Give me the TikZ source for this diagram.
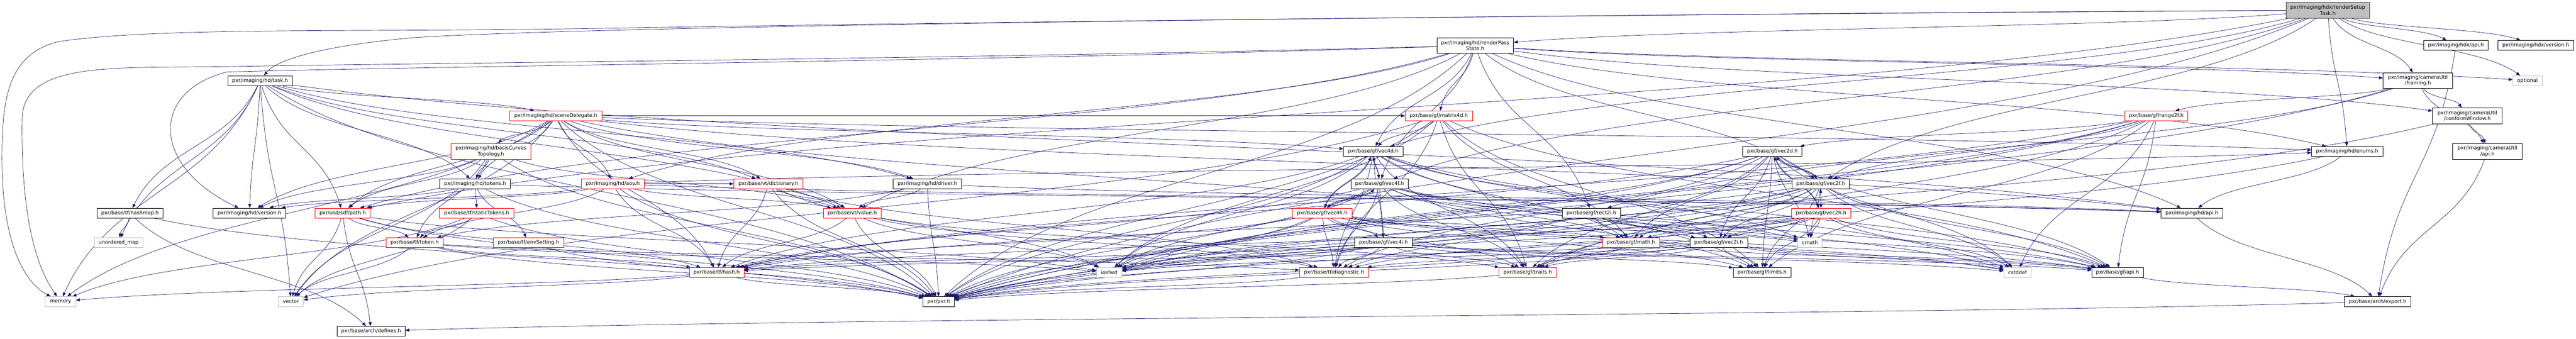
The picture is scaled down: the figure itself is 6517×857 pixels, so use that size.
\documentclass[tikz,border=0pt]{standalone}
\usepackage{fontspec}
\setmainfont{DejaVu Sans}
\usetikzlibrary{arrows.meta,calc}
\definecolor{edgec}{HTML}{191970}
\definecolor{grayb}{HTML}{BFBFBF}
\newif\ifvis
\newcommand\nd[5]{\ifvis\node[#1,minimum width=#4pt] at (#3) {#5};\else\node[#1,draw=none,fill=none,minimum width=#4pt] (#2) at (#3) {};\fi}
\newcommand\edg[2]{\draw[edge] let \p1=(#1), \p2=(#2) in (#1) .. controls ({\x1+0.25*(\x2-\x1)},{\y1+0.5*(\y2-\y1)}) and ({\x2-0.25*(\x2-\x1)},{\y2-0.5*(\y2-\y1)}) .. (#2);}
\newcommand\edgesfrom[2]{\foreach \t in {#2}{\edg{#1}{\t}}}
\newcommand\allnodes{%
\nd{rootb,two}{rst}{5889,26}{212}{pxr/imaging/hdx/renderSetup\\Task.h}
\nd{nb,two}{rps}{3732,115}{194}{pxr/imaging/hd/renderPass\\State.h}
\nd{nb}{hdxapi}{6213,115}{164}{pxr/imaging/hdx/api.h}
\nd{nb}{hdxver}{6415,115}{192}{pxr/imaging/hdx/version.h}
\nd{nb}{task}{658,204}{163}{pxr/imaging/hd/task.h}
\nd{nb,two}{framing}{6117,204}{176}{pxr/imaging/cameraUtil\\/framing.h}
\nd{gb}{optional}{6394,204}{74}{optional}
\nd{rb}{scenedel}{1406,293}{233}{pxr/imaging/hd/sceneDelegate.h}
\nd{rb}{matrix}{3640,293}{170}{pxr/base/gf/matrix4d.h}
\nd{rb}{range}{5455,293}{159}{pxr/base/gf/range2f.h}
\nd{nb,two}{conform}{6242,293}{176}{pxr/imaging/cameraUtil\\/conformWindow.h}
\nd{rb,two}{basis}{1242,383}{203}{pxr/imaging/hd/basisCurves\\Topology.h}
\nd{nb}{vec4d}{3474,383}{150}{pxr/base/gf/vec4d.h}
\nd{nb}{vec2d}{4484,383}{150}{pxr/base/gf/vec2d.h}
\nd{nb}{enums}{5938,383}{180}{pxr/imaging/hd/enums.h}
\nd{nb,two}{cuapi}{6293,383}{176}{pxr/imaging/cameraUtil\\/api.h}
\nd{nb}{tokens}{1202,465}{179}{pxr/imaging/hd/tokens.h}
\nd{rb}{aov}{1550,465}{159}{pxr/imaging/hd/aov.h}
\nd{rb}{dict}{1944,465}{175}{pxr/base/vt/dictionary.h}
\nd{nb}{driver}{2346,465}{173}{pxr/imaging/hd/driver.h}
\nd{nb}{vec4f}{3490,465}{145}{pxr/base/gf/vec4f.h}
\nd{nb}{vec2f}{4606,465}{145}{pxr/base/gf/vec2f.h}
\nd{nb}{hashmap}{329,539}{166}{pxr/base/tf/hashmap.h}
\nd{nb}{hdver}{631,539}{184}{pxr/imaging/hd/version.h}
\nd{rb}{path}{867,539}{139}{pxr/usd/sdf/path.h}
\nd{rb}{stokens}{1206,539}{189}{pxr/base/tf/staticTokens.h}
\nd{rb}{value}{2156,539}{146}{pxr/base/vt/value.h}
\nd{rb}{vec4h}{3345,539}{151}{pxr/base/gf/vec4h.h}
\nd{nb}{rect}{4026,539}{148}{pxr/base/gf/rect2i.h}
\nd{rb}{vec2h}{4607,539}{150}{pxr/base/gf/vec2h.h}
\nd{nb}{hdapi}{5545,539}{156}{pxr/imaging/hd/api.h}
\nd{gb}{umap}{300,614}{123}{unordered\_map}
\nd{rb}{token}{1049,614}{144}{pxr/base/tf/token.h}
\nd{rb}{env}{1337,614}{178}{pxr/base/tf/envSetting.h}
\nd{nb}{vec4i}{3500,614}{146}{pxr/base/gf/vec4i.h}
\nd{rb}{math}{4126,614}{145}{pxr/base/gf/math.h}
\nd{nb}{vec2i}{4348,614}{146}{pxr/base/gf/vec2i.h}
\nd{gb}{cmath}{4579,614}{61}{cmath}
\nd{rb}{hash}{1813,689}{138}{pxr/base/tf/hash.h}
\nd{gb}{iosfwd}{2806,689}{65}{iosfwd}
\nd{rb}{diag}{3375,689}{175}{pxr/base/tf/diagnostic.h}
\nd{rb}{traits}{3865,689}{145}{pxr/base/gf/traits.h}
\nd{nb}{limits}{4458,689}{147}{pxr/base/gf/limits.h}
\nd{gb}{cstddef}{5104,689}{70}{cstddef}
\nd{nb}{gfapi}{5357,689}{130}{pxr/base/gf/api.h}
\nd{gb}{memory}{153,763}{77}{memory}
\nd{gb}{vector}{736,763}{63}{vector}
\nd{nb}{pxr}{2375,763}{79}{pxr/pxr.h}
\nd{nb}{export}{6015,763}{168}{pxr/base/arch/export.h}
\nd{nb}{defines}{939,838}{172}{pxr/base/arch/defines.h}
}
\tikzset{
 nb/.style={draw=black, fill=white, line width=1pt, rectangle, inner sep=0pt, minimum height=25pt, font=\fontsize{12.8}{14.7}\selectfont, align=center},
 rb/.style={nb, draw=red},
 gb/.style={nb, draw=grayb},
 rootb/.style={nb, fill=grayb, draw=black!75},
 two/.style={minimum height=40pt},
 edge/.style={draw=edgec, line width=0.9pt, -{Triangle[length=10pt,width=8pt]}},
}
\begin{document}
\begin{tikzpicture}[x=1pt,y=-1pt]
\fill[white] (0,0) rectangle (6517,857);
\useasboundingbox (0,0) rectangle (6517,857);
\visfalse\allnodes
% long edges routed along the top, as in the reference
\draw[edge] (rst) .. controls (4500,32) and (2500,55) .. (1500,72) .. controls (900,82) and (400,68) .. (150,105) .. controls (20,135) and (5,250) .. (5,400) .. controls (5,650) and (80,725) .. (memory);
\draw[edge] (rst) .. controls (4200,36) and (1600,60) .. (1050,95) .. controls (820,115) and (700,150) .. (task);
\draw[edge] (rps) .. controls (2500,148) and (1200,158) .. (600,168) .. controls (300,174) and (60,150) .. (56,300) .. controls (52,600) and (110,700) .. (memory);
\draw[edge] (rps) .. controls (2500,155) and (1200,165) .. (575,182) .. controls (380,230) and (380,420) .. (hdver);
% edges
\edgesfrom{rst}{pxr,hdxapi,hdxver,enums,rps,framing,optional,vec2f,vec4d,path,vec4f}
\edgesfrom{rps}{pxr,hdapi,aov,enums,framing,optional,conform,path,matrix,vec4d,vec4f,vec2f,rect,value}
\edgesfrom{task}{pxr,hdapi,hdver,driver,scenedel,path,value,dict,hashmap,memory,vector,umap,tokens}
\edgesfrom{scenedel}{pxr,hdapi,hdver,aov,basis,enums,path,value,dict,hash,matrix,vec2i,vec4d,memory,vector,tokens,driver}
\edgesfrom{basis}{pxr,hdver,tokens,token,value,path,vector}
\edgesfrom{tokens}{pxr,hdapi,hdver,stokens,env}
\edgesfrom{aov}{pxr,hdapi,hdver,enums,path,value,token,hash,dict}
\edgesfrom{dict}{pxr,value,hash,iosfwd,diag}
\edgesfrom{driver}{pxr,hdapi,value,token}
\edgesfrom{value}{pxr,hash,iosfwd,diag,traits}
\edgesfrom{hashmap}{umap,defines,pxr}
\edgesfrom{path}{pxr,token,vector,defines,iosfwd,hash}
\edgesfrom{stokens}{token,pxr,vector,memory}
\edgesfrom{token}{pxr,hash,vector,iosfwd,diag}
\edgesfrom{env}{pxr}
\edgesfrom{hash}{pxr,memory,vector}
\edgesfrom{diag}{pxr}
\edgesfrom{traits}{pxr}
\edgesfrom{math}{pxr,gfapi,traits}
\edgesfrom{gfapi}{export}
\edgesfrom{export}{defines}
\edgesfrom{hdapi}{export}
\edgesfrom{cuapi}{export}
\edgesfrom{hdxapi}{export}
\edgesfrom{enums}{pxr,hdapi}
\edgesfrom{framing}{pxr,cuapi,conform,range,rect}
\edgesfrom{conform}{pxr,cuapi}
\edgesfrom{vec4d}{vec4f,vec4h,vec4i,diag,gfapi,limits,traits,math,hash,cstddef,cmath,iosfwd,pxr}
\edgesfrom{vec4f}{vec4d,vec4h,vec4i,diag,gfapi,limits,traits,math,hash,cstddef,cmath,iosfwd,pxr}
\edgesfrom{vec4h}{vec4d,vec4f,vec4i,diag,gfapi,limits,traits,math,hash,cstddef,cmath,iosfwd,pxr}
\edgesfrom{vec4i}{diag,gfapi,limits,traits,hash,cstddef,iosfwd,pxr}
\edgesfrom{vec2d}{vec2f,vec2h,vec2i,diag,gfapi,limits,traits,math,hash,cstddef,cmath,iosfwd,pxr}
\edgesfrom{vec2f}{vec2d,vec2h,vec2i,diag,gfapi,limits,traits,math,hash,cstddef,cmath,iosfwd,pxr}
\edgesfrom{vec2h}{vec2d,vec2f,vec2i,diag,gfapi,limits,traits,math,hash,cstddef,cmath,iosfwd,pxr}
\edgesfrom{vec2i}{diag,gfapi,limits,traits,hash,cstddef,iosfwd,pxr}
\edgesfrom{rect}{math,vec2i,gfapi,pxr,iosfwd}
\edgesfrom{matrix}{pxr,gfapi,vec4d,traits,math,iosfwd,vector,limits,diag}
\edgesfrom{range}{pxr,gfapi,vec2d,vec2f,traits,hash,cstddef,iosfwd,limits}
\vistrue\allnodes
\end{tikzpicture}
\end{document}
